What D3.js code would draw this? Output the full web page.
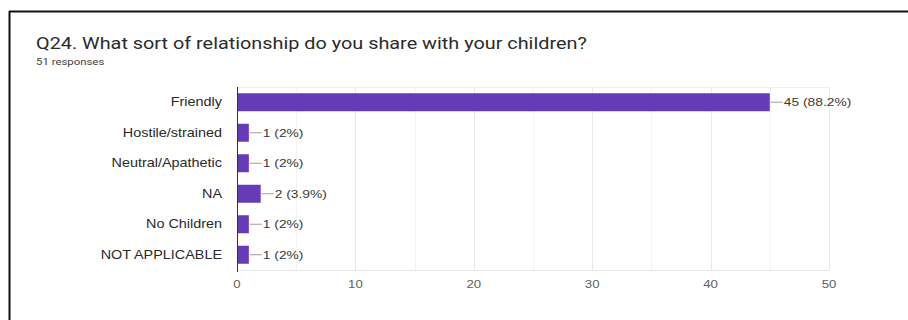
<!DOCTYPE html>
<html>
<head>
<meta charset="utf-8">
<script src="https://cdn.jsdelivr.net/npm/d3@7"></script>
<style>
  body { margin: 0; background: #fff; }
  svg { display: block; }
</style>
</head>
<body>
<div id="chart"></div>
<script>
// Data
var categories = ["Friendly", "Hostile/strained", "Neutral/Apathetic", "NA", "No Children", "NOT APPLICABLE"];
var counts = [45, 1, 1, 2, 1, 1];
var percents = ["88.2%", "2%", "2%", "3.9%", "2%", "2%"];
var tickValues = [0, 10, 20, 30, 40, 50];

var width = 908, height = 320;
var SX = 1.2; // the screenshot is stretched sideways, so text is too

var svg = d3.select("#chart")
    .append("svg")
    .attr("width", width)
    .attr("height", height);

// frame (only top and left edges are visible)
svg.append("line").attr("x1", 9).attr("x2", width).attr("y1", 11.5).attr("y2", 11.5)
    .attr("stroke", "#111").attr("stroke-width", 2);
svg.append("line").attr("x1", 9.5).attr("x2", 9.5).attr("y1", 11).attr("y2", height)
    .attr("stroke", "#111").attr("stroke-width", 2);

function stretchText(sel, x, y, sx) {
    return sel.attr("transform", "translate(" + x + "," + y + ") scale(" + (sx || SX) + ",1)");
}

// title + subtitle
stretchText(svg.append("text"), 36, 49, 1.24)
    .text("Q24. What sort of relationship do you share with your children?")
    .attr("font-family", "Roboto, Arial, sans-serif")
    .attr("font-size", 16)
    .attr("fill", "#2b2b2b");
stretchText(svg.append("text"), 36, 65)
    .text(counts.reduce(function(a, b) { return a + b; }, 0) + " responses")
    .attr("font-family", "Roboto, Arial, sans-serif")
    .attr("font-size", 9.5)
    .attr("fill", "#3c3c3c");

// scales
var x = d3.scaleLinear().domain([0, 50]).range([237, 829]);
var y = d3.scaleBand().domain(categories).range([87, 270]).paddingInner(0.41).paddingOuter(0.205);

// gridlines every 5
var grid = svg.append("g");
grid.selectAll("line")
    .data(d3.range(5, 51, 5))
    .enter()
    .append("line")
    .attr("x1", function(d) { return Math.round(x(d)) + 0.5; })
    .attr("x2", function(d) { return Math.round(x(d)) + 0.5; })
    .attr("y1", 87).attr("y2", 270)
    .attr("stroke", function(d) { return d % 10 == 0 ? "#e8e8e8" : "#f3f3f3"; });
grid.append("line").attr("x1", x(0)).attr("x2", x(50)).attr("y1", 87.5).attr("y2", 87.5).attr("stroke", "#f0f0f0");
grid.append("line").attr("x1", x(0)).attr("x2", x(50)).attr("y1", 270.5).attr("y2", 270.5).attr("stroke", "#e6e6e6");

// bars
var rows = svg.append("g").selectAll("g")
    .data(categories)
    .enter()
    .append("g");

rows.append("rect")
    .attr("x", x(0))
    .attr("y", function(d) { return y(d); })
    .attr("width", function(d, i) { return x(counts[i]) - x(0); })
    .attr("height", y.bandwidth())
    .attr("fill", "#673ab7");

// leader line + value label
rows.append("line")
    .attr("x1", function(d, i) { return x(counts[i]) + 1; })
    .attr("x2", function(d, i) { return x(counts[i]) + 13; })
    .attr("y1", function(d) { return y(d) + y.bandwidth() / 2; })
    .attr("y2", function(d) { return y(d) + y.bandwidth() / 2; })
    .attr("stroke", "#9e9e9e");

rows.append("text")
    .each(function(d, i) {
        stretchText(d3.select(this), x(counts[i]) + 14, y(d) + y.bandwidth() / 2 + 4);
    })
    .text(function(d, i) { return counts[i] + " (" + percents[i] + ")"; })
    .attr("font-family", "Arial, 'Liberation Sans', sans-serif")
    .attr("font-size", 11.5)
    .attr("fill", "#3a3a3a");

// category labels
rows.append("text")
    .each(function(d) {
        stretchText(d3.select(this), 222, y(d) + y.bandwidth() / 2 + 4);
    })
    .attr("text-anchor", "end")
    .text(function(d) { return d; })
    .attr("font-family", "Arial, 'Liberation Sans', sans-serif")
    .attr("font-size", 12)
    .attr("fill", "#2a2a2a");

// left axis line
svg.append("line").attr("x1", x(0) + 0.5).attr("x2", x(0) + 0.5).attr("y1", 87).attr("y2", 272)
    .attr("stroke", "#333").attr("stroke-width", 1);

// x tick labels
svg.append("g").selectAll("text")
    .data(tickValues)
    .enter()
    .append("text")
    .each(function(d) { stretchText(d3.select(this), x(d), 288); })
    .attr("text-anchor", "middle")
    .text(function(d) { return d; })
    .attr("font-family", "Arial, 'Liberation Sans', sans-serif")
    .attr("font-size", 11)
    .attr("fill", "#5f5f5f");
</script>
</body>
</html>
